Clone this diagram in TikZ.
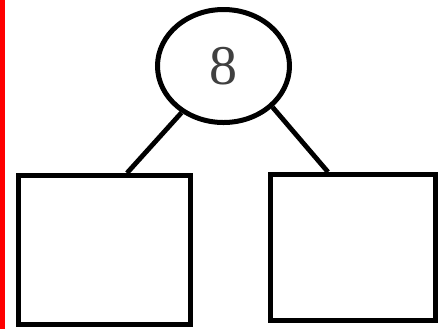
\documentclass[tikz,border=0pt]{standalone}
\usepackage{fontspec}
\setmainfont{Liberation Serif}
\usepackage{tikz}
\usetikzlibrary{shapes.geometric, positioning}

\begin{document}
\begin{tikzpicture}[
        x=0.5pt, y=-0.5pt,
        % Style for the root value
        rootnode/.style={
            draw,
            ellipse,
            line width=2.5pt,
            minimum width=66pt,
            minimum height=56.5pt,
            inner sep=0pt,
            text=black!75,
            font=\fontsize{28}{30}\selectfont
        },
        % Style for the empty child boxes
        childbox/.style={
            draw,
            line width=2.5pt,
            inner sep=0pt
        },
        edge/.style={line width=2.4pt}
    ]

    % ==========================================
    % FRAME
    % ==========================================
    \useasboundingbox (0,0) rectangle (440,329);
    \fill[red] (0,0) rectangle (4.5,329);

    % ==========================================
    % TREE
    % ==========================================
    \node[rootnode] (root) at (223.5,66) {8};
    \node[childbox, minimum width=86pt, minimum height=74.5pt] (leftbox) at (104.5,250) {};
    \node[childbox, minimum width=82.5pt, minimum height=73pt] (rightbox) at (353,247.5) {};

    % Branches
    \draw[edge] (root.228) -- ([xshift=11.25pt]leftbox.north);
    \draw[edge] (root.320) -- ([xshift=-12.5pt]rightbox.north);

\end{tikzpicture}
\end{document}
